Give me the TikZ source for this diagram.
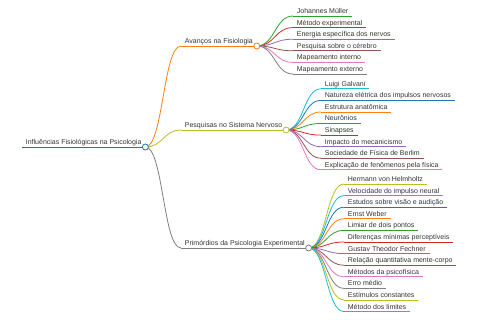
\documentclass[tikz,border=0pt]{standalone}
\usepackage{fontspec}
\setmainfont{Liberation Sans}
\usetikzlibrary{calc}
\definecolor{c0}{HTML}{1F77B4}
\definecolor{c1}{HTML}{FF7F0E}
\definecolor{c2}{HTML}{2CA02C}
\definecolor{c3}{HTML}{D62728}
\definecolor{c4}{HTML}{9467BD}
\definecolor{c5}{HTML}{8C564B}
\definecolor{c6}{HTML}{E377C2}
\definecolor{c7}{HTML}{7F7F7F}
\definecolor{c8}{HTML}{BCBD22}
\definecolor{c9}{HTML}{17BECF}
\definecolor{txt}{HTML}{333333}
\tikzset{
  mmtext/.style={anchor=south west, inner xsep=3.7pt, inner ysep=0.8pt, text depth=1.5pt, text height=5.2pt, font=\fontsize{7}{8}\selectfont, text=txt},
  mmline/.style={line width=0.8pt},
  mmdot/.style={circle, fill=white, line width=0.8pt, minimum size=6pt, inner sep=0pt},
}
\newcommand\mmlink[3]{\draw[#1,mmline] let \p1=(#2), \p2=(#3) in (\p1) .. controls ({(\x1+\x2)/2},\y1) and ({(\x1+\x2)/2},\y2) .. (\p2);}
\newcommand\mmleaf[5]{% color, name, x, y, text
  \node[mmtext] (#2) at (#3,#4) {#5};
  \draw[#1,mmline] (#2.south west) -- (#2.south east);}
\begin{document}
\begin{tikzpicture}[x=1pt,y=-1pt]
\useasboundingbox (0,0) rectangle (480,320);
% root and branches
\mmleaf{c0}{root}{22}{147}{Influências Fisiológicas na Psicologia}
\coordinate (rootc) at (root.south east);
\mmleaf{c1}{b1}{181}{46}{Avanços na Fisiologia}
\coordinate (b1c) at (b1.south east);
\mmleaf{c8}{b2}{181}{130}{Pesquisas no Sistema Nervoso}
\coordinate (b2c) at (b2.south east);
\mmleaf{c7}{b3}{181}{248}{Primórdios da Psicologia Experimental}
\coordinate (b3c) at (b3.south east);
\mmlink{c1}{rootc}{b1.south west}
\mmlink{c8}{rootc}{b2.south west}
\mmlink{c7}{rootc}{b3.south west}
% branch 1 leaves
\mmleaf{c2}{a1}{293}{16}{Johannes Müller}
\mmleaf{c3}{a2}{293}{27.6}{Método experimental}
\mmleaf{c4}{a3}{293}{39.2}{Energia específica dos nervos}
\mmleaf{c5}{a4}{293}{50.8}{Pesquisa sobre o cérebro}
\mmleaf{c6}{a5}{293}{62.4}{Mapeamento interno}
\mmleaf{c7}{a6}{293}{74}{Mapeamento externo}
\mmlink{c2}{b1c}{a1.south west}
\mmlink{c3}{b1c}{a2.south west}
\mmlink{c4}{b1c}{a3.south west}
\mmlink{c5}{b1c}{a4.south west}
\mmlink{c6}{b1c}{a5.south west}
\mmlink{c7}{b1c}{a6.south west}
% branch 2 leaves
\mmleaf{c9}{n1}{321}{88.8}{Luigi Galvani}
\mmleaf{c0}{n2}{321}{100.4}{Natureza elétrica dos impulsos nervosos}
\mmleaf{c1}{n3}{321}{112}{Estrutura anatômica}
\mmleaf{c2}{n4}{321}{123.5}{Neurônios}
\mmleaf{c3}{n5}{321}{135.1}{Sinapses}
\mmleaf{c4}{n6}{321}{146.7}{Impacto do mecanicismo}
\mmleaf{c5}{n7}{321}{158.2}{Sociedade de Física de Berlim}
\mmleaf{c6}{n8}{321}{169.8}{Explicação de fenômenos pela física}
\mmlink{c9}{b2c}{n1.south west}
\mmlink{c0}{b2c}{n2.south west}
\mmlink{c1}{b2c}{n3.south west}
\mmlink{c2}{b2c}{n4.south west}
\mmlink{c3}{b2c}{n5.south west}
\mmlink{c4}{b2c}{n6.south west}
\mmlink{c5}{b2c}{n7.south west}
\mmlink{c6}{b2c}{n8.south west}
% branch 3 leaves
\mmleaf{c8}{p1}{344}{184}{Hermann von Helmholtz}
\mmleaf{c9}{p2}{344}{195.6}{Velocidade do impulso neural}
\mmleaf{c0}{p3}{344}{207.2}{Estudos sobre visão e audição}
\mmleaf{c1}{p4}{344}{218.8}{Ernst Weber}
\mmleaf{c2}{p5}{344}{230.4}{Limiar de dois pontos}
\mmleaf{c3}{p6}{344}{242}{Diferenças mínimas perceptíveis}
\mmleaf{c4}{p7}{344}{253.6}{Gustav Theodor Fechner}
\mmleaf{c5}{p8}{344}{265.2}{Relação quantitativa mente-corpo}
\mmleaf{c6}{p9}{344}{276.8}{Métodos da psicofísica}
\mmleaf{c7}{p10}{344}{288.4}{Erro médio}
\mmleaf{c8}{p11}{344}{300}{Estímulos constantes}
\mmleaf{c9}{p12}{344}{311.6}{Método dos limites}
\mmlink{c8}{b3c}{p1.south west}
\mmlink{c9}{b3c}{p2.south west}
\mmlink{c0}{b3c}{p3.south west}
\mmlink{c1}{b3c}{p4.south west}
\mmlink{c2}{b3c}{p5.south west}
\mmlink{c3}{b3c}{p6.south west}
\mmlink{c4}{b3c}{p7.south west}
\mmlink{c5}{b3c}{p8.south west}
\mmlink{c6}{b3c}{p9.south west}
\mmlink{c7}{b3c}{p10.south west}
\mmlink{c8}{b3c}{p11.south west}
\mmlink{c9}{b3c}{p12.south west}
% circles
\node[mmdot, draw=c0] (rootdot) at (rootc) {};
\node[mmdot, draw=c1] (b1dot) at (b1c) {};
\node[mmdot, draw=c8] (b2dot) at (b2c) {};
\node[mmdot, draw=c7] (b3dot) at (b3c) {};
\end{tikzpicture}
\end{document}
